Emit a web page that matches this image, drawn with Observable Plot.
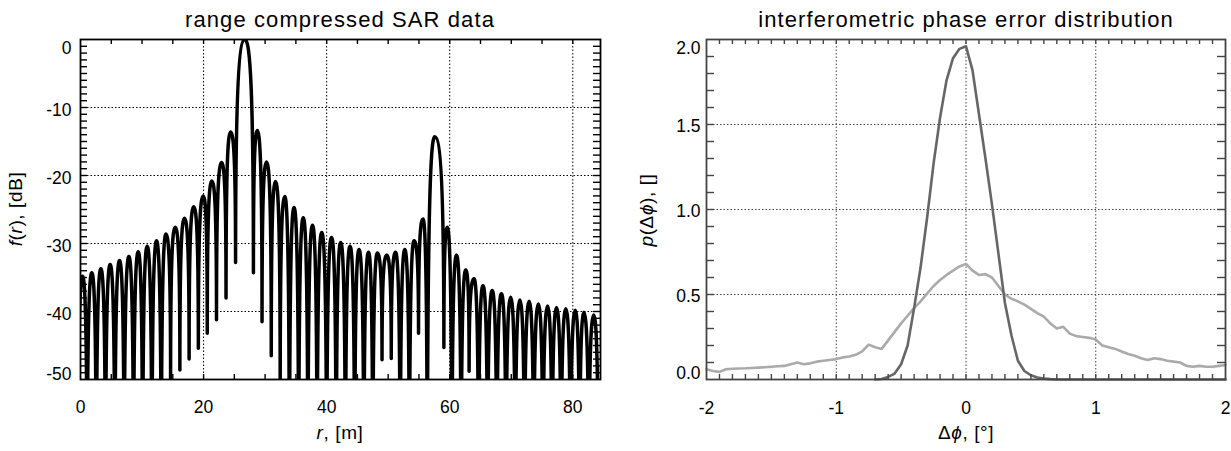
<!DOCTYPE html>
<html><head><meta charset="utf-8">
<script src="https://cdn.jsdelivr.net/npm/d3@7"></script>
<script src="https://cdn.jsdelivr.net/npm/@observablehq/plot@0.6"></script>
<style>
body{margin:0;background:#fff;}
#wrap{position:relative;width:1231px;height:451px;}
#wrap > svg{position:absolute;top:0;}
</style></head><body><div id="wrap"></div>
<script>
// ---------- left chart data: range compressed SAR data ----------
const sarPeakR = [0.33,1.84,3.31,4.82,6.34,7.86,9.38,10.84,12.36,13.88,15.4,16.9,18.4,19.95,21.35,22.93,24.39,26.72,28.73,30.24,31.7,33.2,34.7,36.2,37.7,39.2,40.8,42.28,43.8,45.26,46.8,48.24,49.76,51.2,52.7,54.2,55.66,57.56,59.6,61.1,62.6,63.96,65.4,66.9,68.4,69.9,71.4,72.9,74.4,75.9,77.35,78.86,80.4,81.8,83.4];
const sarPeakDB = [-34.8,-34.3,-33.7,-33.1,-32.5,-31.9,-31.2,-30.4,-29.6,-28.6,-27.6,-26.3,-24.6,-23.0,-20.8,-18.1,-13.6,0,-13.4,-18.0,-20.9,-23.1,-24.7,-26.2,-27.3,-28.4,-29.1,-29.85,-30.4,-30.9,-31.3,-31.4,-31.7,-31.3,-30.9,-29.6,-26.4,-14.3,-27.6,-31.7,-33.9,-35.2,-36.2,-36.9,-37.4,-37.9,-38.3,-38.5,-38.9,-39.2,-39.4,-39.6,-39.8,-40.1,-40.5];
const sarNullR = [-0.42,1.08,2.57,4.06,5.58,7.1,8.62,10.1,11.6,13.12,14.64,16.15,17.65,19.15,20.6,22.1,23.65,25.2,28.1,29.5,31.0,32.45,33.95,35.45,36.95,38.45,40.0,41.55,43.05,44.55,46.05,47.5,49.0,50.5,51.95,53.45,54.93,56.35,59.05,60.35,61.85,63.15,64.68,66.15,67.65,69.15,70.65,72.15,73.65,75.15,76.63,78.1,79.63,81.1,82.6,84.15];
const sarNullDB = [-75,-75,-75,-75,-75,-75,-75,-75,-75,-75,-50.5,-48.6,-47,-45.4,-43.2,-41.2,-38,-32.8,-34.3,-41.5,-46.5,-53,-75,-75,-75,-75,-75,-75,-75,-75,-75,-75,-47.1,-46.9,-75,-75,-43.2,-75,-45.3,-75,-75,-48.8,-75,-75,-75,-75,-75,-75,-75,-75,-75,-75,-75,-75,-75,-75];
const rTicks = [0,20,40,60,80];
const rGrid = [20,40,60,80];
const dbTicks = [0,-10,-20,-30,-40,-50];
const dbGrid = [-10,-20,-30,-40];

// ---------- right chart data: interferometric phase error distribution ----------
const phaseBins = [-2.00,-1.95,-1.90,-1.85,-1.80,-1.75,-1.70,-1.65,-1.60,-1.55,-1.50,-1.45,-1.40,-1.35,-1.30,-1.25,-1.20,-1.15,-1.10,-1.05,-1.00,-0.95,-0.90,-0.85,-0.80,-0.75,-0.70,-0.65,-0.60,-0.55,-0.50,-0.45,-0.40,-0.35,-0.30,-0.25,-0.20,-0.15,-0.10,-0.05,0.00,0.05,0.10,0.15,0.20,0.25,0.30,0.35,0.40,0.45,0.50,0.55,0.60,0.65,0.70,0.75,0.80,0.85,0.90,0.95,1.00,1.05,1.10,1.15,1.20,1.25,1.30,1.35,1.40,1.45,1.50,1.55,1.60,1.65,1.70,1.75,1.80,1.85,1.90,1.95,2.00];
const lightP = [0.06,0.05,0.045,0.06,0.063,0.065,0.066,0.068,0.07,0.072,0.075,0.078,0.08,0.09,0.10,0.09,0.095,0.105,0.11,0.115,0.12,0.13,0.135,0.145,0.165,0.205,0.19,0.18,0.23,0.28,0.33,0.375,0.42,0.46,0.505,0.55,0.585,0.615,0.64,0.665,0.68,0.64,0.615,0.62,0.60,0.55,0.50,0.475,0.46,0.44,0.415,0.39,0.37,0.33,0.30,0.31,0.27,0.255,0.25,0.245,0.235,0.20,0.19,0.18,0.165,0.15,0.14,0.125,0.115,0.125,0.12,0.11,0.105,0.10,0.08,0.075,0.08,0.075,0.075,0.08,0.085];
const darkP = [null,null,null,null,null,null,null,null,null,null,null,null,null,null,null,null,null,null,null,null,null,null,null,null,null,null,0,0.003,0.015,0.035,0.09,0.2,0.42,0.66,0.95,1.27,1.54,1.76,1.89,1.945,1.96,1.82,1.56,1.3,1.03,0.74,0.45,0.26,0.11,0.05,0.025,0.012,0.005,0.002,0,0,0,0,0,0,0,0,0,0,0,0,0,0,0,0,0,0,0,0,0,0,0,0,0,0,0];
const phiTicks = [-2,-1,0,1,2];
const phiGrid = [-1,0,1];
const pTicks = [0,0.5,1.0,1.5,2.0];
const pGrid = [0.5,1.0,1.5];

const FONT = '"Liberation Sans", Arial, Helvetica, sans-serif';

// rows for the SAR line: alternate null / lobe peak
const sarRows = [];
sarNullR.forEach((r, i) => {
  sarRows.push({r, db: sarNullDB[i]});
  if (i < sarPeakR.length) sarRows.push({r: sarPeakR[i], db: sarPeakDB[i]});
});
const phaseRows = phaseBins.map((x, i) => ({x, light: lightP[i], dark: darkP[i]}));

// custom curve: arches — vertical tangent at nulls, horizontal tangent at peaks
function archCurve(context) {
  let pts = [];
  const A = 0.8, B = 0.6;
  return {
    areaStart() {}, areaEnd() {},
    lineStart() { pts = []; },
    point(x, y) { pts.push([+x, +y]); },
    lineEnd() {
      if (!pts.length) return;
      context.moveTo(pts[0][0], pts[0][1]);
      for (let i = 1; i < pts.length; i++) {
        const [x0, y0] = pts[i - 1], [x1, y1] = pts[i];
        const dx = x1 - x0;
        if (y1 < y0) context.bezierCurveTo(x0, y0 + A * (y1 - y0), x1 - B * dx, y1, x1, y1);
        else context.bezierCurveTo(x0 + B * dx, y0, x1, y1 + A * (y0 - y1), x1, y1);
      }
    }
  };
}

const wrap = document.getElementById("wrap");
const fmt = d => String(d);
const H = 451, MT = 39, MB = 72;
const baseStyle = {fontFamily: FONT, fontSize: "17.5px", color: "#000", background: "transparent", overflow: "visible"};

// ---------- left plot ----------
const LW = 615, LML = 80, LMR = 15;
const LIW = LW - LML - LMR, LIH = H - MT - MB;
const rDom = [0, 84.5], dbDom = [-50, 0];
const left = Plot.plot({
  width: LW, height: H,
  marginLeft: LML, marginRight: LMR, marginTop: MT, marginBottom: MB,
  x: {domain: rDom},
  y: {domain: dbDom},
  style: baseStyle,
  marks: [
    Plot.ruleX(rGrid, {stroke: "#000", strokeWidth: 1, strokeDasharray: "1.5,2"}),
    Plot.ruleY(dbGrid, {stroke: "#000", strokeWidth: 1, strokeDasharray: "1.5,2"}),
    Plot.line(sarRows, {x: "r", y: "db", curve: archCurve, stroke: "#000", strokeWidth: 3.5, clip: true}),
    Plot.frame({stroke: "#000", strokeWidth: 1.8}),
    Plot.axisX(rTicks, {anchor: "bottom", tickSize: 0, tickPadding: 21, tickFormat: fmt, label: null}),
    Plot.axisY(dbTicks.slice(1, 5), {anchor: "left", tickSize: 0, tickPadding: 9, dy: 3, tickFormat: fmt, label: null}),
    Plot.axisY([dbTicks[0]], {anchor: "left", tickSize: 0, tickPadding: 9, dy: 9, tickFormat: fmt, label: null}),
    Plot.axisY([dbTicks[5]], {anchor: "left", tickSize: 0, tickPadding: 9, dy: -5, tickFormat: fmt, label: null})
  ]
});
left.style.left = "0px";
wrap.appendChild(left);

// ---------- right plot ----------
const RX = 615, RW = 616, RML = 91, RMR = 6;
const RIW = RW - RML - RMR, RIH = H - MT - MB;
const phiDom = [-2, 2], pDom = [0, 2];
const GR = "#444";
const right = Plot.plot({
  width: RW, height: H,
  marginLeft: RML, marginRight: RMR, marginTop: MT, marginBottom: MB,
  x: {domain: phiDom},
  y: {domain: pDom},
  style: baseStyle,
  marks: [
    Plot.ruleX(phiGrid, {stroke: GR, strokeWidth: 1, strokeDasharray: "1.5,2"}),
    Plot.ruleY(pGrid, {stroke: GR, strokeWidth: 1, strokeDasharray: "1.5,2"}),
    Plot.line(phaseRows, {x: "x", y: "light", stroke: "#aaaaaa", strokeWidth: 2.6}),
    Plot.line(phaseRows, {x: "x", y: "dark", stroke: "#666666", strokeWidth: 2.6}),
    Plot.frame({stroke: GR, strokeWidth: 1.8}),
    Plot.axisX(phiTicks, {anchor: "bottom", tickSize: 0, tickPadding: 22, tickFormat: fmt, label: null}),
    Plot.axisY(pTicks.slice(1, 4), {anchor: "left", tickSize: 0, tickPadding: 6, dy: 1.5, tickFormat: d => d.toFixed(1), label: null}),
    Plot.axisY([pTicks[4]], {anchor: "left", tickSize: 0, tickPadding: 6, dy: 9, tickFormat: d => d.toFixed(1), label: null}),
    Plot.axisY([pTicks[0]], {anchor: "left", tickSize: 0, tickPadding: 6, dy: -6, tickFormat: d => d.toFixed(1), label: null})
  ]
});
right.style.left = RX + "px";
wrap.appendChild(right);

// ---------- titles and axis labels ----------
const ov = d3.select(wrap).append("svg")
  .attr("width", 1231).attr("height", 451)
  .style("left", "0px").style("pointer-events", "none")
  .style("font-family", FONT).style("overflow", "visible");

function label(parts, x, y, opts = {}) {
  const t = ov.append("text")
    .attr("text-anchor", "middle")
    .attr("font-size", opts.size || 19)
    .attr("letter-spacing", opts.ls || 0)
    .attr("fill", "#000")
    .attr("transform", `translate(${x},${y})` + (opts.rotate ? ` rotate(${opts.rotate})` : ""));
  parts.forEach(([s, it]) => t.append("tspan").attr("font-style", it ? "italic" : "normal").text(s));
}
label([["range compressed SAR data", false]], 340, 26.7, {size: 22, ls: 1.1});
label([["interferometric phase error distribution", false]], 966, 26.7, {size: 22, ls: 1.1});
label([["r", true], [", [m]", false]], 340, 439, {ls: 0.6});
label([["\u0394", false], ["\u03d5", true], [", [\u00b0]", false]], 966, 439, {ls: 0.6});
label([["f", true], ["(", false], ["r", true], ["), [dB]", false]], 22, 209, {rotate: -90, ls: 0.6});
label([["p", true], ["(\u0394", false], ["\u03d5", true], ["), []", false]], 653, 210, {rotate: -90, ls: 0.6});

// ---------- minor tick layers (drawn on top, same scales) ----------
function tickLayer(w, ml, mr, xDom, yDom, xMinor, yMinor, xLen, yLen, color, leftPx) {
  const iw = w - ml - mr, ih = H - MT - MB;
  const dy = xLen * (yDom[1] - yDom[0]) / ih;
  const dx = yLen * (xDom[1] - xDom[0]) / iw;
  const st = {stroke: color, strokeWidth: 1.4};
  const p = Plot.plot({
    width: w, height: H,
    marginLeft: ml, marginRight: mr, marginTop: MT, marginBottom: MB,
    x: {domain: xDom, axis: null},
    y: {domain: yDom, axis: null},
    style: baseStyle,
    marks: [
      Plot.ruleX(xMinor, {x: d => d, y1: yDom[0], y2: yDom[0] + dy, ...st}),
      Plot.ruleX(xMinor, {x: d => d, y1: yDom[1], y2: yDom[1] - dy, ...st}),
      Plot.ruleY(yMinor, {y: d => d, x1: xDom[0], x2: xDom[0] + dx, ...st}),
      Plot.ruleY(yMinor, {y: d => d, x1: xDom[1], x2: xDom[1] - dx, ...st})
    ]
  });
  p.style.left = leftPx + "px";
  wrap.appendChild(p);
}
tickLayer(LW, LML, LMR, rDom, dbDom, d3.range(5, 84, 5), d3.range(-49, 0, 1), 5, 7, "#000", 0);
tickLayer(RW, RML, RMR, phiDom, pDom, d3.range(-19, 20, 1).map(d => d / 10), d3.range(1, 20, 1).map(d => d / 10), 5, 8, GR, RX);
</script>
</body></html>
